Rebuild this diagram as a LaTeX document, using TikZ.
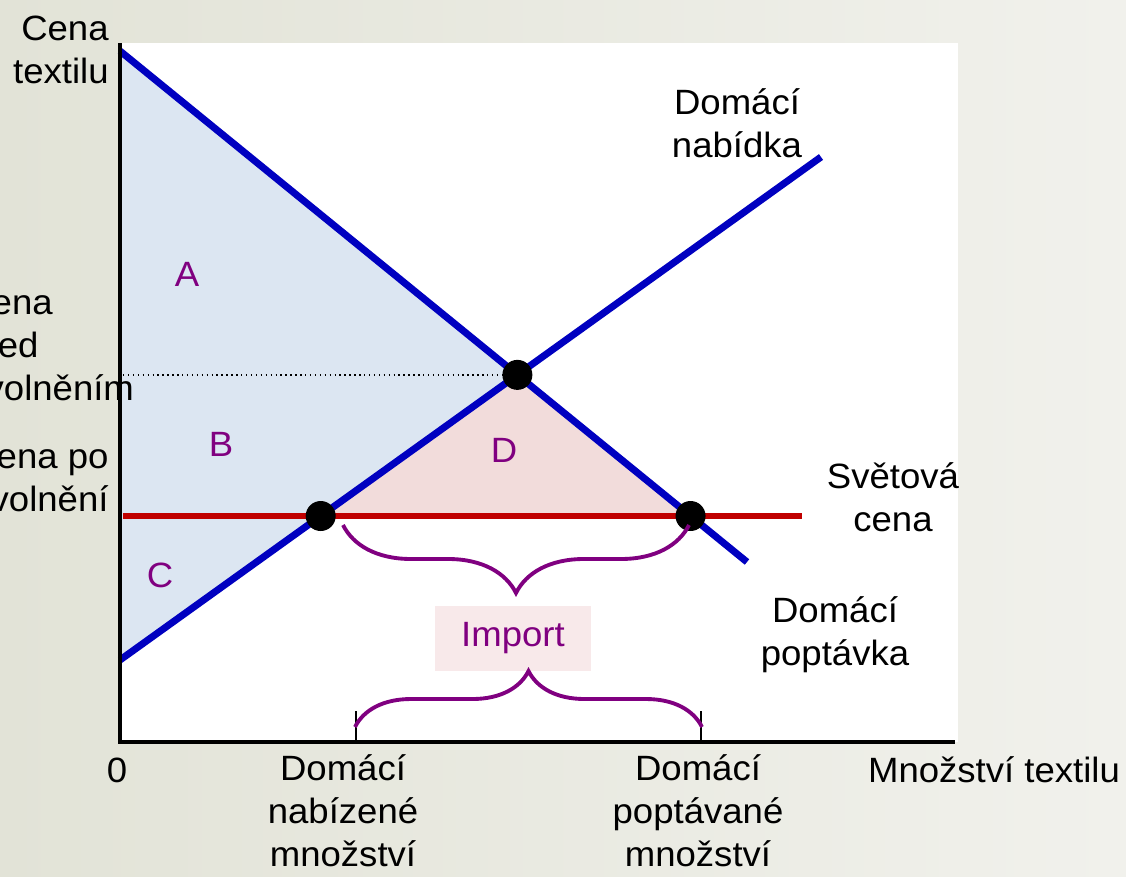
\documentclass[tikz,border=0pt]{standalone}
\usepackage{fontspec}
\setmainfont{Liberation Sans}[FakeStretch=1.04]
\usepackage{xcolor}
\usetikzlibrary{decorations.pathreplacing,positioning}
\definecolor{bgleft}{HTML}{E2E3D7}
\definecolor{bgright}{HTML}{F1F1EC}
\definecolor{surplusblue}{HTML}{DCE6F2}
\definecolor{dwlpink}{HTML}{F2DCDB}
\definecolor{importpink}{HTML}{F8E9EA}
\definecolor{areapurple}{HTML}{800080}
\definecolor{curveblue}{HTML}{0000C0}
\definecolor{worldred}{HTML}{C00000}

\begin{document}
\begin{tikzpicture}[
  x=0.02cm, y=-0.02cm,
  txt/.style={font=\fontsize{20}{24.5}\selectfont,inner sep=0pt,align=center},
  area/.style={txt,text=areapurple},
  curve/.style={draw=curveblue,line width=4pt},
  eq/.style={circle,fill=black,inner sep=0pt,minimum size=0.6cm},
  brc/.style={decorate,decoration={brace,amplitude=#1},draw=areapurple,line width=2.2pt},
  brcdown/.style={brc=#1,decoration={mirror}}
]
\useasboundingbox (0,0) rectangle (1126,876);
\shade[left color=bgleft,right color=bgright] (0,0) rectangle (1126,876);
\fill[white] (120,43) rectangle (958,742);

\coordinate (O) at (120,742);
\coordinate (ytop) at (120,43);
\coordinate (xend) at (955,742);
\coordinate (d0) at (120,51);
\coordinate (d1) at (747,562);
\coordinate (s0) at (120,660);
\coordinate (s1) at (821,157);
\coordinate (w0) at (123,516);
\coordinate (w1) at (802,516);
\coordinate (E) at (intersection of d0--d1 and s0--s1);
\coordinate (Qs) at (intersection of s0--s1 and w0--w1);
\coordinate (Qd) at (intersection of d0--d1 and w0--w1);

\fill[surplusblue] (d0) -- (E) -- (s0) -- cycle;
\fill[dwlpink] (Qs) -- (E) -- (Qd) -- cycle;
\draw[dotted,line width=0.8pt] (E -| w0) -- (E);
\draw[worldred,line width=3.8pt] (w0) -- (w1);
\draw[curve] (d0) -- (d1);
\draw[curve] (s0) -- (s1);
\node[eq] (eqE) at (E) {};
\node[eq] (eqS) at (Qs) {};
\node[eq] (eqD) at (Qd) {};

\draw[line width=2.6pt] (ytop) -- (O) -- (xend);
\coordinate (t1) at (356,742);
\coordinate (t2) at (701,742);
\draw[line width=0.8pt] (t1) -- ++(0,-31) (t2) -- ++(0,-31);

\node[area] (lA) at (187,274) {A};
\node[area] (lB) at (221,444) {B};
\node[area] (lC) at (160,575) {C};
\node[area] (lD) at (504,450) {D};

\coordinate (ub0) at (343,525);
\coordinate (ub1) at (689,525);
\draw[brcdown=1.36cm] (ub0) -- (ub1);
\node[area,fill=importpink,minimum width=3.12cm,minimum height=1.3cm] (imp) at (513,638) {Import};
\coordinate (lb0) at (355,727);
\coordinate (lb1) at (702,727);
\draw[brc=1.12cm] (lb0) -- (lb1);

\node[txt,align=right,anchor=east] (yname) at (109,50) {Cena\\textilu};
\node[txt,align=left,anchor=west] (pold) at (-35,345) {Cena\\před\\uvolněním};
\node[txt,align=left,anchor=west] (pnew) at (-30,478) {Cena po\\uvolnění};
\node[txt] (supply) at (737,123) {Domácí\\nabídka};
\node[txt] (world) at (893,497) {Světová\\cena};
\node[txt] (demand) at (835,635) {Domácí\\poptávka};
\node[txt,anchor=base] (zero) at (117,782) {0};
\node[txt] (qs) at (343,811) {Domácí\\nabízené\\množství};
\node[txt] (qd) at (698,811) {Domácí\\poptávané\\množství};
\node[txt,anchor=base] (xname) at (994,782) {Množství textilu};
\end{tikzpicture}
\end{document}
